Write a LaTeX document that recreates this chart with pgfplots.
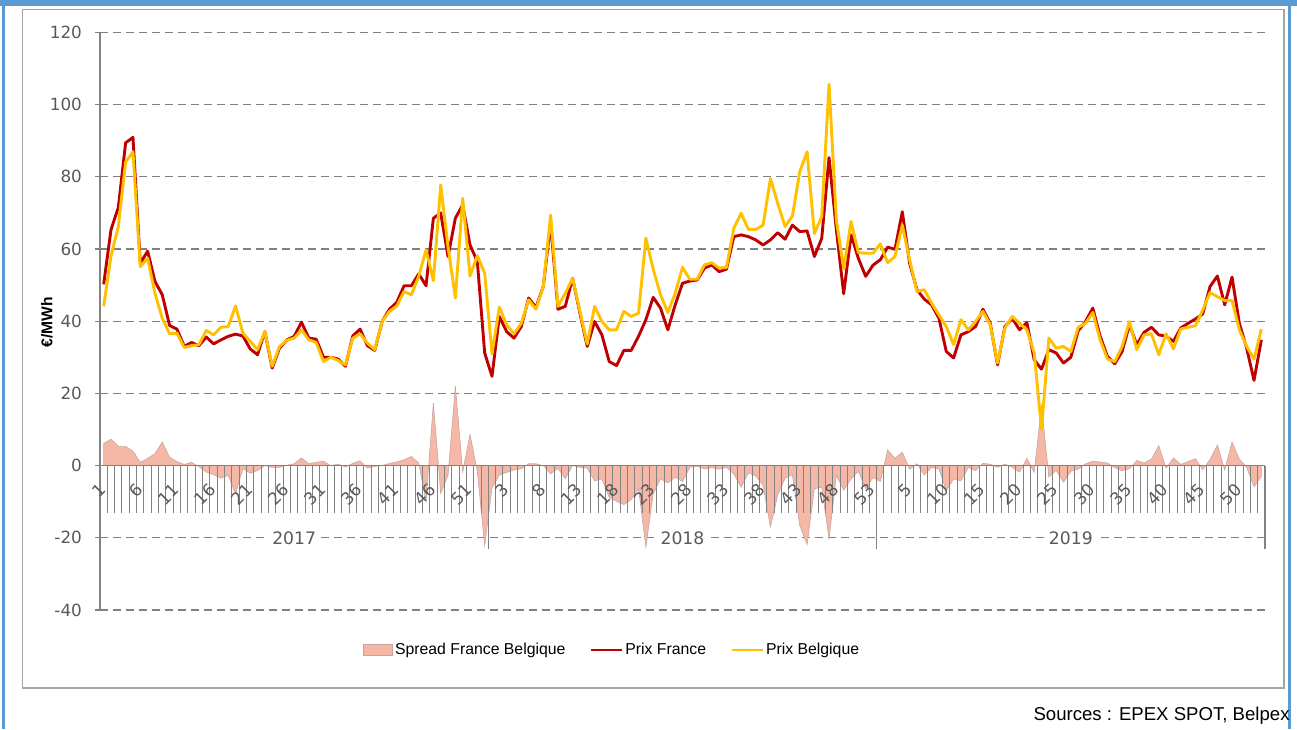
\documentclass[border=0pt]{standalone}
\usepackage{pgfplots}
\pgfplotsset{compat=1.18}
\usepackage{pgfplotstable}
\usepackage{fontspec}
\setmainfont{Liberation Sans}
\newfontfamily\dv{DejaVu Sans}
\definecolor{framblue}{RGB}{91,155,213}
\definecolor{boxgray}{RGB}{165,165,165}
\definecolor{gridgray}{RGB}{128,128,128}
\definecolor{axgray}{RGB}{130,130,130}
\definecolor{tickgray}{RGB}{89,89,89}
\definecolor{frred}{RGB}{192,0,0}
\definecolor{beyel}{RGB}{255,192,0}
\definecolor{spfill}{RGB}{246,184,166}
\definecolor{spedge}{RGB}{200,165,158}

\pgfplotsset{
  lineleg/.style={legend image code/.code={\draw[##1] (0pt,0pt) -- (15.5pt,0pt);}},
  arealeg/.style={legend image code/.code={\path[##1] (0pt,-2.6pt) rectangle (14.5pt,2.6pt);}},
}

\pgfplotstableread{
i F B S
1 50.2 44.1 6.1
2 65.3 58.0 7.3
3 71.5 66.2 5.3
4 89.4 84.1 5.3
5 90.9 86.9 4.0
6 56.0 55.1 0.9
7 59.4 57.4 2.0
8 51.0 47.7 3.3
9 47.3 40.8 6.5
10 38.8 36.5 2.3
11 37.8 36.7 1.1
12 33.0 32.7 0.3
13 34.1 33.2 0.9
14 33.2 33.5 -0.3
15 35.6 37.4 -1.8
16 33.7 36.2 -2.5
17 34.8 38.3 -3.5
18 35.8 38.5 -2.7
19 36.4 44.2 -7.8
20 35.9 36.7 -0.8
21 32.3 34.4 -2.1
22 30.7 32.1 -1.4
23 37.1 37.1 0.0
24 27.0 27.5 -0.5
25 32.5 33.0 -0.5
26 34.8 34.7 0.1
27 35.8 35.3 0.5
28 39.7 37.6 2.1
29 35.3 34.8 0.5
30 35.0 34.1 0.9
31 30.0 28.8 1.2
32 30.0 30.0 0.0
33 29.5 29.1 0.4
34 27.5 27.9 -0.4
35 35.9 35.3 0.6
36 37.8 36.5 1.3
37 33.2 33.9 -0.7
38 31.9 32.1 -0.2
39 39.9 39.9 0.0
40 43.3 42.7 0.6
41 45.2 44.2 1.0
42 49.8 48.2 1.6
43 49.8 47.3 2.5
44 53.1 52.4 0.7
45 49.8 59.7 -9.9
46 68.5 51.2 17.3
47 70.0 77.7 -7.7
48 57.9 60.6 -2.7
49 68.5 46.4 22.1
50 72.2 74.0 -1.8
51 61.1 52.5 8.6
52 56.5 58.1 -1.6
53 31.2 53.3 -22.1
54 24.7 30.9 -6.2
55 41.3 43.9 -2.6
56 37.1 39.0 -1.9
57 35.3 36.5 -1.2
58 38.5 39.4 -0.9
59 46.4 45.9 0.5
60 43.8 43.3 0.5
61 49.6 49.6 0.0
62 67.1 69.4 -2.3
63 43.3 44.1 -0.8
64 44.1 47.7 -3.6
65 51.9 51.9 0.0
66 42.2 42.7 -0.5
67 33.0 33.7 -0.7
68 39.9 44.1 -4.2
69 36.2 39.9 -3.7
70 28.8 37.6 -8.8
71 27.7 37.6 -9.9
72 31.9 42.7 -10.8
73 31.9 41.3 -9.4
74 35.8 42.2 -6.4
75 40.4 63.0 -22.6
76 46.6 54.4 -7.8
77 43.6 47.3 -3.7
78 37.6 42.4 -4.8
79 44.5 47.7 -3.2
80 50.5 54.9 -4.4
81 51.1 51.6 -0.5
82 51.4 51.6 -0.2
83 54.7 55.6 -0.9
84 55.6 56.2 -0.6
85 53.7 54.7 -1.0
86 54.4 54.9 -0.5
87 63.4 65.7 -2.3
88 63.9 69.9 -6.0
89 63.4 65.4 -2.0
90 62.5 65.4 -2.9
91 61.1 66.6 -5.5
92 62.5 79.5 -17.0
93 64.5 72.6 -8.1
94 62.7 66.2 -3.5
95 66.6 69.1 -2.5
96 64.8 81.4 -16.6
97 65.0 86.9 -21.9
98 57.9 64.3 -6.4
99 62.9 68.9 -6.0
100 85.3 105.6 -20.3
101 65.3 68.0 -2.7
102 47.6 54.4 -6.8
103 63.9 67.6 -3.7
104 57.4 59.0 -1.6
105 52.4 58.8 -6.4
106 55.5 58.8 -3.3
107 57.0 61.4 -4.4
108 60.5 56.2 4.3
109 59.9 57.9 2.0
110 70.3 66.6 3.7
111 56.0 57.0 -1.0
112 48.7 48.2 0.5
113 46.1 48.7 -2.6
114 44.5 45.0 -0.5
115 40.8 41.7 -0.9
116 31.6 38.5 -6.9
117 29.8 33.5 -3.7
118 36.2 40.4 -4.2
119 37.1 37.6 -0.5
120 38.5 39.9 -1.4
121 43.3 42.7 0.6
122 39.4 39.0 0.4
123 27.9 28.4 -0.5
124 38.5 38.1 0.4
125 40.8 41.3 -0.5
126 37.6 39.4 -1.8
127 39.6 37.6 2.0
128 29.3 31.2 -1.9
129 26.7 10.0 16.7
130 32.1 35.3 -3.2
131 31.2 32.5 -1.3
132 28.4 33.0 -4.6
133 30.0 31.6 -1.6
134 37.3 38.3 -1.0
135 39.9 39.4 0.5
136 43.6 42.4 1.2
137 35.8 34.8 1.0
138 30.2 29.5 0.7
139 28.2 28.8 -0.6
140 31.6 33.0 -1.4
141 39.0 39.9 -0.9
142 33.5 32.1 1.4
143 36.9 36.2 0.7
144 38.3 36.5 1.8
145 36.2 30.7 5.5
146 35.8 36.5 -0.7
147 34.4 32.3 2.1
148 38.1 37.8 0.3
149 39.4 38.3 1.1
150 40.6 38.7 1.9
151 42.0 43.1 -1.1
152 49.6 47.9 1.7
153 52.5 46.8 5.7
154 44.5 45.7 -1.2
155 52.2 45.7 6.5
156 39.4 37.6 1.8
157 32.5 33.0 -0.5
158 23.6 29.5 -5.9
159 34.8 37.8 -3.0
}\data

\newcommand\cl[2]{\node[catlabel] at (axis cs:#1,-5.6) {#2};}
\newcommand\ct[1]{\draw[axgray,line width=0.5pt] (axis cs:#1,0) -- (axis cs:#1,-13.2);}

\begin{document}
\begin{tikzpicture}[x=0.5pt,y=0.5pt,
  catlabel/.style={rotate=45,anchor=east,inner sep=0.5pt,text=tickgray,font=\dv\fontsize{8.4}{10}\selectfont},
  yearlabel/.style={fill=white,inner sep=2pt,text=tickgray,font=\dv\fontsize{8.6}{10}\selectfont}]
\useasboundingbox (0,0) rectangle (1297,729);
% outer frame
\fill[framblue] (0,723) rectangle (1297,729);
\fill[framblue] (2,0) rectangle (5,729);
\fill[framblue] (1288,0) rectangle (1291,729);
\draw[boxgray,line width=0.75pt] (22.5,41) rectangle (1284,719.5);
\node[anchor=east,inner sep=0pt,font=\fontsize{9.3}{11}\selectfont] at (1290,13) {Sources : EPEX SPOT, Belpex};
\node[rotate=90,font=\bfseries\fontsize{7.8}{9}\selectfont] at (47,407) {€/MWh};

\begin{axis}[
  at={(50pt,59.5pt)}, anchor=south west,
  scale only axis, width=582.5pt, height=288.85pt,
  xmin=0.5, xmax=159.5, ymin=-40, ymax=120,
  axis line style={draw=none},
  xtick=\empty,
  ytick={-40,-20,...,120}, ytick pos=left,
  tick align=outside, major tick length=2.5pt,
  tick style={axgray,line width=0.6pt},
  ymajorgrids,
  major grid style={gridgray,line width=0.6pt,dash pattern=on 4pt off 2.5pt},
  /pgf/number format/assume math mode=true,
  yticklabel style={font=\dv\fontsize{8.4}{10}\selectfont,text=tickgray,xshift=-3pt},
  clip=false,
  legend columns=3,
  legend style={at={(0.2258,-0.0692)},anchor=west,draw=none,fill=none,
    font=\fontsize{7.9}{9}\selectfont,inner sep=0pt,
    nodes={inner sep=1pt},
    /tikz/every even column/.append style={column sep=11pt}},
  legend cell align=left,
]
\addplot[fill=spfill,draw=spedge,line width=0.3pt,arealeg]
  table[x=i,y=S]{\data} \closedcycle;
\addlegendentry{Spread France Belgique}
\addplot[frred,line width=1.45pt,line join=round,lineleg]
  table[x=i,y=F]{\data};
\addlegendentry{Prix France}
\addplot[beyel,line width=1.45pt,line join=round,lineleg]
  table[x=i,y=B]{\data};
\addlegendentry{Prix Belgique}
% axis lines
\draw[axgray,line width=0.6pt] (axis cs:0.5,-40) -- (axis cs:0.5,120);
\draw[axgray,line width=0.6pt] (axis cs:0.5,0) -- (axis cs:159.5,0);
\ct{1.5}\ct{2.5}\ct{3.5}\ct{4.5}\ct{5.5}\ct{6.5}\ct{7.5}\ct{8.5}\ct{9.5}\ct{10.5}
\ct{11.5}\ct{12.5}\ct{13.5}\ct{14.5}\ct{15.5}\ct{16.5}\ct{17.5}\ct{18.5}\ct{19.5}\ct{20.5}
\ct{21.5}\ct{22.5}\ct{23.5}\ct{24.5}\ct{25.5}\ct{26.5}\ct{27.5}\ct{28.5}\ct{29.5}\ct{30.5}
\ct{31.5}\ct{32.5}\ct{33.5}\ct{34.5}\ct{35.5}\ct{36.5}\ct{37.5}\ct{38.5}\ct{39.5}\ct{40.5}
\ct{41.5}\ct{42.5}\ct{43.5}\ct{44.5}\ct{45.5}\ct{46.5}\ct{47.5}\ct{48.5}\ct{49.5}\ct{50.5}
\ct{51.5}\ct{52.5}\ct{54.5}\ct{55.5}\ct{56.5}\ct{57.5}\ct{58.5}\ct{59.5}\ct{60.5}
\ct{61.5}\ct{62.5}\ct{63.5}\ct{64.5}\ct{65.5}\ct{66.5}\ct{67.5}\ct{68.5}\ct{69.5}\ct{70.5}
\ct{71.5}\ct{72.5}\ct{73.5}\ct{74.5}\ct{75.5}\ct{76.5}\ct{77.5}\ct{78.5}\ct{79.5}\ct{80.5}
\ct{81.5}\ct{82.5}\ct{83.5}\ct{84.5}\ct{85.5}\ct{86.5}\ct{87.5}\ct{88.5}\ct{89.5}\ct{90.5}
\ct{91.5}\ct{92.5}\ct{93.5}\ct{94.5}\ct{95.5}\ct{96.5}\ct{97.5}\ct{98.5}\ct{99.5}\ct{100.5}
\ct{101.5}\ct{102.5}\ct{103.5}\ct{104.5}\ct{105.5}\ct{107.5}\ct{108.5}\ct{109.5}\ct{110.5}
\ct{111.5}\ct{112.5}\ct{113.5}\ct{114.5}\ct{115.5}\ct{116.5}\ct{117.5}\ct{118.5}\ct{119.5}\ct{120.5}
\ct{121.5}\ct{122.5}\ct{123.5}\ct{124.5}\ct{125.5}\ct{126.5}\ct{127.5}\ct{128.5}\ct{129.5}\ct{130.5}
\ct{131.5}\ct{132.5}\ct{133.5}\ct{134.5}\ct{135.5}\ct{136.5}\ct{137.5}\ct{138.5}\ct{139.5}\ct{140.5}
\ct{141.5}\ct{142.5}\ct{143.5}\ct{144.5}\ct{145.5}\ct{146.5}\ct{147.5}\ct{148.5}\ct{149.5}\ct{150.5}
\ct{151.5}\ct{152.5}\ct{153.5}\ct{154.5}\ct{155.5}\ct{156.5}\ct{157.5}\ct{158.5}
\draw[axgray,line width=0.6pt] (axis cs:53.5,0) -- (axis cs:53.5,-23.2);
\draw[axgray,line width=0.6pt] (axis cs:106.5,0) -- (axis cs:106.5,-23.2);
\draw[axgray,line width=0.6pt] (axis cs:159.5,0) -- (axis cs:159.5,-23.2);
\cl{1}{1}\cl{6}{6}\cl{11}{11}\cl{16}{16}\cl{21}{21}\cl{26}{26}\cl{31}{31}\cl{36}{36}\cl{41}{41}\cl{46}{46}\cl{51}{51}
\cl{56}{3}\cl{61}{8}\cl{66}{13}\cl{71}{18}\cl{76}{23}\cl{81}{28}\cl{86}{33}\cl{91}{38}\cl{96}{43}\cl{101}{48}\cl{106}{53}
\cl{111}{5}\cl{116}{10}\cl{121}{15}\cl{126}{20}\cl{131}{25}\cl{136}{30}\cl{141}{35}\cl{146}{40}\cl{151}{45}\cl{156}{50}
\node[yearlabel] at (axis cs:27,-20) {2017};
\node[yearlabel] at (axis cs:80,-20) {2018};
\node[yearlabel] at (axis cs:133,-20) {2019};
\end{axis}
\end{tikzpicture}
\end{document}
